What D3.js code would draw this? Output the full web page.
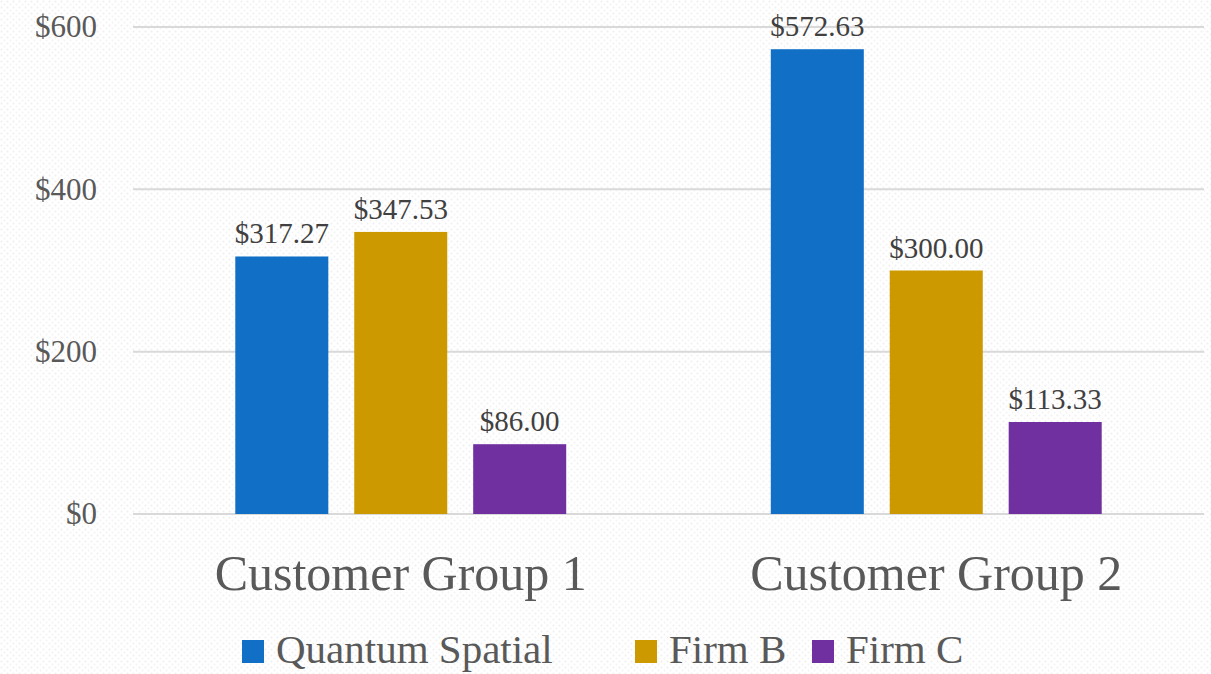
<!DOCTYPE html>
<html>
<head>
<meta charset="utf-8">
<script src="https://cdn.jsdelivr.net/npm/d3@7"></script>
<style>
  html, body { margin: 0; padding: 0; background: #fff; }
  svg { display: block; }
  text { font-family: "Liberation Serif", "DejaVu Serif", serif; }
</style>
</head>
<body>
<div id="chart"></div>
<script>
let svgWidth = 1211;
let svgHeight = 674;
let margin = { top: 27, right: 7, bottom: 160, left: 133 };
let w = svgWidth - margin.left - margin.right;
let h = svgHeight - margin.top - margin.bottom;

let groups = ['Customer Group 1', 'Customer Group 2'];
let firms = ['Quantum Spatial', 'Firm B', 'Firm C'];
let quantumSpatial = [317.27, 572.63];
let firmB = [347.53, 300.00];
let firmC = [86.00, 113.33];
let yTicks = [0, 200, 400, 600];
let colors = ['#1170c6', '#cc9900', '#7030a0'];

let seriesValues = [quantumSpatial, firmB, firmC];
let rows = [];
groups.forEach(function(g, gi){
    firms.forEach(function(f, fi){
        rows.push({ group: g, firm: f, value: seriesValues[fi][gi] });
    });
});

let svg = d3.select('#chart')
    .append('svg')
        .attr('width', svgWidth)
        .attr('height', svgHeight);

// faint dotted background texture
let defs = svg.append('defs');
let pat = defs.append('pattern')
    .attr('id', 'bgdots')
    .attr('width', 6)
    .attr('height', 6)
    .attr('patternUnits', 'userSpaceOnUse');
pat.append('rect').attr('width', 6).attr('height', 6).attr('fill', '#ffffff');
pat.append('circle').attr('cx', 1.5).attr('cy', 1.5).attr('r', 1).attr('fill', '#efefef');
pat.append('circle').attr('cx', 4.5).attr('cy', 4.5).attr('r', 1).attr('fill', '#f3f3f3');

svg.append('rect')
    .attr('width', svgWidth)
    .attr('height', svgHeight)
    .attr('fill', 'url(#bgdots)');

let chart = svg.append('g')
    .attr('transform', `translate(${margin.left},${margin.top})`);

let x0 = d3.scaleBand()
    .domain(groups)
    .range([0, w]);

let x1 = d3.scaleBand()
    .domain(firms)
    .range([0, x0.bandwidth()])
    .paddingInner(0.218)
    .paddingOuter(0.86);

let y = d3.scaleLinear()
    .domain([0, 600])
    .range([h, 0]);

// gridlines
chart.append('g')
    .selectAll('line')
    .data(yTicks)
    .join('line')
        .attr('x1', 0)
        .attr('x2', w)
        .attr('y1', d => y(d))
        .attr('y2', d => y(d))
        .attr('stroke', '#d9d9d9')
        .attr('stroke-width', 2);

// y axis labels
let yAxis = d3.axisLeft(y)
    .tickValues(yTicks)
    .tickSize(0)
    .tickPadding(36)
    .tickFormat(d => '$' + d);

chart.append('g')
    .call(yAxis)
    .call(g => g.select('.domain').remove())
    .selectAll('text')
        .attr('font-family', '"Liberation Serif", serif')
        .attr('font-size', 31)
        .attr('fill', '#595959');

// bars
let bars = chart.append('g')
    .selectAll('g')
    .data(rows)
    .join('g')
        .attr('transform', d => `translate(${x0(d.group) + x1(d.firm)},0)`);

bars.append('rect')
    .attr('x', 0)
    .attr('y', d => y(d.value))
    .attr('width', x1.bandwidth())
    .attr('height', d => h - y(d.value))
    .attr('fill', d => colors[firms.indexOf(d.firm)]);

bars.append('text')
    .attr('x', x1.bandwidth() / 2)
    .attr('y', d => y(d.value) - 13)
    .attr('text-anchor', 'middle')
    .attr('font-size', 29)
    .attr('fill', '#404040')
    .text(d => '$' + d.value.toFixed(2));

// category axis
let xAxis = d3.axisBottom(x0).tickSize(0).tickPadding(40);
chart.append('g')
    .attr('transform', `translate(0,${h})`)
    .call(xAxis)
    .call(g => g.select('.domain').remove())
    .selectAll('text')
        .attr('font-family', '"Liberation Serif", serif')
        .attr('font-size', 50)
        .attr('fill', '#595959');

// legend
let legendX = [242, 635, 812];
let legend = svg.append('g')
    .selectAll('g')
    .data(firms)
    .join('g')
        .attr('transform', (d, i) => `translate(${legendX[i]},640)`);

legend.append('rect')
    .attr('width', 22)
    .attr('height', 23)
    .attr('fill', (d, i) => colors[i]);

legend.append('text')
    .attr('x', 34)
    .attr('y', 23)
    .attr('font-size', 41)
    .attr('fill', '#595959')
    .text(d => d);
</script>
</body>
</html>
